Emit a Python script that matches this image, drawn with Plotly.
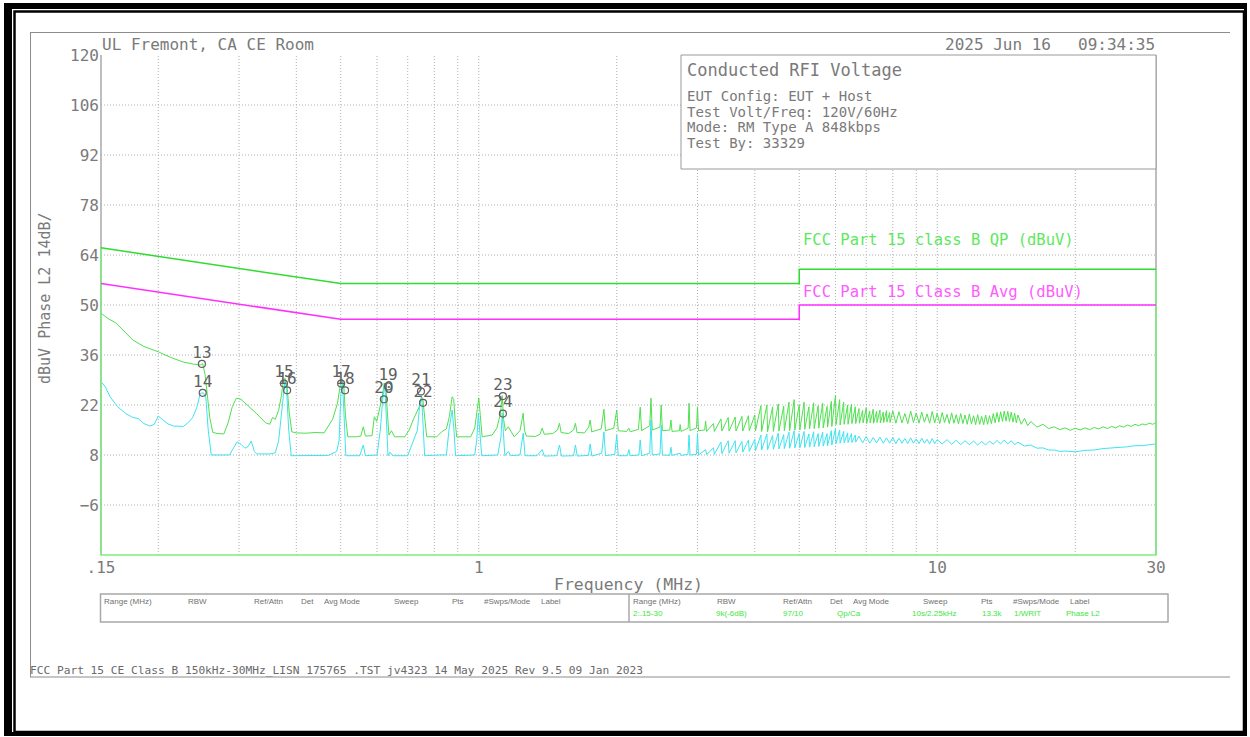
import math
import plotly.graph_objects as go

# ---------------- data ----------------
F_MIN, F_MAX = 0.15, 30.0
Y_MIN, Y_MAX = -20, 120
Y_TICKS = [-6, 8, 22, 36, 50, 64, 78, 92, 106, 120]
X_TICKS = [0.15, 1, 10, 30]
X_TICK_TEXT = [".15", "1", "10", "30"]
X_GRID = [0.2, 0.3, 0.4, 0.5, 0.6, 0.7, 0.8, 0.9, 1, 2, 3, 4, 5, 6, 7, 8, 9, 10, 20]

LIMIT_FREQ = [0.15, 0.5, 5, 5, 30]
QP_LIMIT = [66, 56, 56, 60, 60]
AVG_LIMIT = [56, 46, 46, 50, 50]

# peak / quasi-peak sweep (MHz, dBuV)
QP_SWEEP = [
    (0.150, 47.7), (0.155, 46.3), (0.162, 44.9), (0.170, 42.0), (0.176, 40.2), (0.186, 38.4),
    (0.200, 36.9), (0.213, 35.3), (0.227, 34.0), (0.240, 33.4), (0.247, 33.2), (0.250, 33.6),
    (0.253, 30.5), (0.256, 24.5), (0.259, 18.5), (0.263, 14.3), (0.270, 14.0), (0.278, 13.9),
    (0.284, 17.0), (0.290, 21.5), (0.296, 23.9), (0.303, 23.6), (0.312, 22.2), (0.327, 19.7),
    (0.343, 17.0), (0.350, 16.6), (0.355, 18.5), (0.360, 18.0), (0.366, 20.5), (0.371, 24.5),
    (0.375, 29.0), (0.378, 29.5), (0.382, 27.0), (0.386, 20.0), (0.391, 14.5), (0.400, 14.2),
    (0.420, 14.1), (0.440, 14.3), (0.460, 14.2), (0.468, 15.9), (0.480, 18.0), (0.492, 22.5),
    (0.500, 28.5), (0.504, 29.3), (0.508, 27.0), (0.512, 19.0), (0.518, 13.1), (0.540, 13.1),
    (0.553, 13.3), (0.560, 15.9), (0.566, 13.3), (0.585, 13.4), (0.592, 18.7), (0.599, 17.4),
    (0.607, 20.6), (0.616, 24.3), (0.622, 28.2), (0.627, 27.5), (0.632, 20.0), (0.637, 13.6),
    (0.645, 14.8), (0.655, 13.1), (0.690, 13.1), (0.705, 15.0), (0.722, 18.3), (0.740, 21.2),
    (0.750, 24.3), (0.755, 23.8), (0.763, 18.0), (0.770, 13.1), (0.810, 13.1), (0.830, 14.5),
    (0.850, 15.3), (0.862, 18.5), (0.875, 24.3), (0.882, 23.5), (0.889, 17.0), (0.895, 13.1),
    (0.960, 13.1), (0.980, 15.5), (0.993, 21.0), (1.000, 24.0), (1.008, 19.0), (1.017, 13.1),
    (1.070, 13.6), (1.095, 15.5), (1.115, 19.5), (1.125, 24.6), (1.133, 18.0), (1.143, 14.8),
    (1.160, 15.9), (1.175, 14.5), (1.195, 13.1), (1.230, 14.8), (1.250, 19.7), (1.258, 15.0),
    (1.270, 13.3), (1.330, 13.2), (1.360, 13.8), (1.375, 15.5), (1.390, 13.8), (1.450, 14.0),
    (1.485, 15.0), (1.500, 16.9), (1.512, 14.3), (1.570, 14.0), (1.610, 15.0), (1.625, 16.9),
    (1.638, 14.3), (1.700, 14.2), (1.737, 15.8), (1.750, 17.8), (1.763, 14.5), (1.850, 15.3),
    (1.875, 20.8), (1.890, 14.8), (1.970, 15.5), (2.000, 20.6), (2.015, 14.8), (2.100, 14.6),
    (2.125, 15.5), (2.140, 14.5), (2.230, 15.2), (2.250, 21.4), (2.265, 14.8), (2.360, 16.2),
    (2.375, 23.9), (2.390, 15.0), (2.485, 15.8), (2.500, 22.0), (2.515, 14.8), (2.610, 15.0),
    (2.625, 17.8), (2.640, 14.6), (2.740, 14.8), (2.750, 16.5), (2.762, 14.6), (2.862, 15.5),
    (2.875, 22.5), (2.890, 14.8), (2.985, 15.6), (3.000, 21.5), (3.015, 14.8), (3.110, 15.0),
    (3.125, 17.5), (3.140, 14.6), (3.250, 16.8), (3.265, 14.6), (3.375, 18.1), (3.390, 14.7),
    (3.500, 18.5), (3.515, 14.7), (3.625, 18.6), (3.640, 14.7), (3.750, 18.8), (3.765, 14.7),
    (3.875, 19.0), (3.890, 14.8), (4.000, 19.2), (4.015, 14.8), (4.125, 21.8), (4.140, 14.6),
    (4.250, 22.0), (4.265, 14.5), (4.375, 21.5), (4.390, 14.6), (4.500, 22.3), (4.515, 14.7),
    (4.625, 21.7), (4.640, 14.8), (4.750, 22.8), (4.765, 14.8), (4.875, 23.5), (4.890, 15.0),
    (5.000, 22.0), (5.015, 15.0), (5.125, 22.8), (5.140, 15.2), (5.250, 21.5), (5.265, 15.3),
    (5.375, 22.6), (5.390, 15.4), (5.500, 21.8), (5.515, 15.5), (5.625, 22.5), (5.640, 15.6),
    (5.750, 21.6), (5.765, 15.8), (5.875, 23.0), (5.890, 16.0), (6.000, 24.8), (6.015, 16.5),
    (6.125, 23.5), (6.140, 16.4), (6.250, 22.8), (6.265, 16.6), (6.375, 22.0), (6.390, 16.6),
    (6.500, 22.3), (6.515, 16.8), (6.625, 21.5), (6.640, 16.8), (6.750, 21.0), (6.765, 16.9),
    (6.875, 20.5), (6.890, 17.0), (7.000, 21.2), (7.015, 16.8), (7.125, 20.3), (7.140, 17.0),
    (7.250, 20.8), (7.265, 16.9), (7.375, 20.2), (7.390, 17.1), (7.500, 20.6), (7.515, 17.0),
    (7.625, 20.0), (7.640, 17.1), (7.750, 20.4), (7.765, 17.2), (7.875, 19.9), (7.890, 17.1),
    (8.000, 20.3), (8.125, 16.9), (8.250, 20.1), (8.375, 17.0), (8.500, 19.6), (8.625, 16.8),
    (8.750, 20.3), (8.875, 17.1), (9.000, 19.8), (9.125, 16.9), (9.250, 20.0), (9.375, 17.2),
    (9.500, 19.5), (9.625, 16.9), (9.750, 20.2), (9.875, 17.0), (10.00, 19.7), (10.125, 16.8),
    (10.25, 19.9), (10.375, 17.1), (10.50, 19.4), (10.625, 16.8), (10.75, 19.8), (10.875, 16.9),
    (11.00, 19.3), (11.125, 16.7), (11.25, 19.6), (11.375, 16.8), (11.50, 19.2), (11.625, 16.6),
    (11.75, 19.5), (11.875, 16.7), (12.00, 19.0), (12.125, 16.5), (12.25, 19.3), (12.375, 16.6),
    (12.50, 18.8), (12.625, 16.5), (12.75, 19.2), (12.875, 16.6), (13.00, 19.0), (13.125, 16.8),
    (13.25, 19.6), (13.375, 17.0), (13.50, 19.9), (13.625, 17.2), (13.75, 20.1), (13.875, 17.4),
    (14.00, 20.3), (14.125, 17.5), (14.25, 20.2), (14.375, 17.4), (14.50, 20.0), (14.625, 17.2),
    (14.75, 19.7), (14.875, 17.0), (15.00, 19.2), (15.25, 16.6), (15.50, 18.3), (15.75, 16.2),
    (16.00, 17.4), (16.50, 15.8), (17.00, 16.6), (17.50, 15.4), (18.00, 15.9), (18.50, 15.1),
    (19.00, 15.6), (19.50, 14.9), (20.00, 15.5), (20.50, 15.0), (21.00, 15.6), (21.50, 15.1),
    (22.00, 15.7), (22.50, 15.3), (23.00, 15.9), (23.50, 15.4), (24.00, 16.0), (24.50, 15.6),
    (25.00, 16.2), (25.50, 15.8), (26.00, 16.4), (26.50, 16.0), (27.00, 16.6), (27.50, 16.2),
    (28.00, 16.7), (28.50, 16.4), (29.00, 16.9), (29.50, 16.6), (30.00, 17.1),
]

# average sweep (MHz, dBuV)
AVG_SWEEP = [
    (0.150, 28.5), (0.153, 27.3), (0.157, 24.3), (0.163, 21.5), (0.170, 19.6), (0.176, 18.5),
    (0.181, 18.2), (0.186, 16.8), (0.192, 16.1), (0.196, 16.6), (0.200, 18.9), (0.204, 18.0),
    (0.210, 16.7), (0.216, 16.1), (0.227, 16.0), (0.233, 17.2), (0.238, 18.6), (0.243, 21.5),
    (0.247, 25.3), (0.251, 25.4), (0.254, 24.0), (0.257, 15.0), (0.261, 8.0), (0.270, 8.0),
    (0.286, 8.0), (0.292, 10.0), (0.297, 11.7), (0.303, 11.0), (0.309, 9.9), (0.314, 10.4),
    (0.319, 11.9), (0.324, 9.0), (0.328, 8.3), (0.350, 8.3), (0.360, 8.6), (0.366, 12.0),
    (0.371, 20.0), (0.375, 26.5), (0.378, 29.0), (0.381, 26.0), (0.385, 15.0), (0.390, 7.8),
    (0.420, 7.8), (0.470, 7.9), (0.490, 9.0), (0.496, 12.2), (0.500, 24.3), (0.504, 29.0),
    (0.508, 20.0), (0.513, 7.8), (0.550, 7.8), (0.560, 10.8), (0.566, 7.8), (0.600, 8.0),
    (0.610, 15.0), (0.618, 24.3), (0.624, 27.6), (0.630, 15.0), (0.634, 7.8), (0.640, 8.8),
    (0.650, 7.8), (0.700, 7.8), (0.735, 15.0), (0.745, 23.4), (0.751, 24.0), (0.757, 15.0),
    (0.762, 7.8), (0.820, 8.0), (0.850, 8.0), (0.862, 15.5), (0.875, 20.6), (0.883, 15.0),
    (0.890, 7.8), (0.980, 8.0), (0.990, 12.2), (0.998, 19.7), (1.008, 13.0), (1.015, 7.8),
    (1.100, 8.0), (1.118, 13.0), (1.125, 19.7), (1.133, 11.0), (1.140, 7.8), (1.160, 9.0),
    (1.175, 7.8), (1.230, 8.0), (1.250, 14.1), (1.262, 7.8), (1.340, 7.8), (1.375, 9.5),
    (1.390, 7.7), (1.480, 7.8), (1.500, 10.8), (1.515, 7.7), (1.610, 7.8), (1.625, 10.8),
    (1.640, 7.7), (1.735, 7.9), (1.750, 11.1), (1.765, 7.7), (1.855, 8.5), (1.875, 14.5),
    (1.890, 7.8), (1.980, 8.2), (2.000, 13.6), (2.015, 7.8), (2.110, 7.8), (2.125, 9.5),
    (2.140, 7.8), (2.235, 8.0), (2.250, 12.2), (2.265, 7.8), (2.360, 8.5), (2.375, 17.8),
    (2.390, 8.0), (2.485, 8.3), (2.500, 16.4), (2.515, 8.0), (2.610, 7.9), (2.625, 10.2),
    (2.640, 7.9), (2.750, 8.5), (2.765, 7.9), (2.860, 8.2), (2.875, 13.6), (2.890, 8.0),
    (2.985, 8.2), (3.000, 14.1), (3.015, 8.0), (3.125, 9.5), (3.140, 8.1), (3.250, 10.0),
    (3.265, 8.2), (3.375, 11.6), (3.390, 8.4), (3.500, 12.0), (3.515, 8.5), (3.625, 12.0),
    (3.640, 8.6), (3.750, 11.8), (3.765, 8.8), (3.875, 12.2), (3.890, 9.0), (4.000, 12.4),
    (4.015, 9.2), (4.125, 13.6), (4.140, 9.4), (4.250, 13.9), (4.265, 9.5), (4.375, 13.5),
    (4.390, 9.6), (4.500, 14.1), (4.515, 9.7), (4.625, 13.7), (4.640, 9.8), (4.750, 14.4),
    (4.765, 9.9), (4.875, 14.8), (4.890, 10.0), (5.000, 14.0), (5.015, 10.0), (5.125, 14.6),
    (5.140, 10.1), (5.250, 13.9), (5.265, 10.2), (5.375, 14.5), (5.390, 10.3), (5.500, 14.0),
    (5.515, 10.4), (5.625, 14.4), (5.640, 10.5), (5.750, 14.0), (5.765, 10.6), (5.875, 14.8),
    (5.890, 10.8), (6.000, 15.5), (6.015, 11.2), (6.125, 15.0), (6.140, 11.3), (6.250, 14.6),
    (6.265, 11.4), (6.375, 14.2), (6.390, 11.5), (6.500, 14.0), (6.515, 11.5), (6.625, 13.6),
    (6.640, 11.6), (6.750, 13.3), (6.875, 11.4), (7.000, 13.2), (7.125, 11.3), (7.250, 12.9),
    (7.375, 11.4), (7.500, 13.0), (7.625, 11.3), (7.750, 12.8), (7.875, 11.3), (8.000, 12.9),
    (8.125, 11.2), (8.250, 12.7), (8.375, 11.3), (8.500, 12.6), (8.625, 11.2), (8.750, 12.8),
    (8.875, 11.3), (9.000, 12.5), (9.125, 11.2), (9.250, 12.7), (9.375, 11.3), (9.500, 12.4),
    (9.625, 11.1), (9.750, 12.6), (9.875, 11.2), (10.00, 12.3), (10.25, 11.1), (10.50, 12.3),
    (10.75, 11.0), (11.00, 12.1), (11.25, 10.9), (11.50, 12.0), (11.75, 10.9), (12.00, 11.9),
    (12.25, 10.8), (12.50, 11.8), (12.75, 10.8), (13.00, 11.9), (13.25, 11.0), (13.50, 12.1),
    (13.75, 11.1), (14.00, 12.2), (14.25, 11.1), (14.50, 12.0), (14.75, 10.9), (15.00, 11.6),
    (15.50, 10.5), (16.00, 10.8), (16.50, 9.9), (17.00, 10.0), (17.50, 9.4), (18.00, 9.4),
    (18.50, 9.0), (19.00, 9.1), (20.00, 8.9), (21.00, 9.3), (22.00, 9.4), (23.00, 9.8),
    (24.00, 9.9), (25.00, 10.2), (26.00, 10.3), (27.00, 10.6), (28.00, 10.6), (29.00, 10.9),
    (30.00, 11.1),
]

MK_LABEL = ["13", "14", "15", "16", "17", "18", "19", "20", "21", "22", "23", "24"]
MK_FREQ = [0.249, 0.250, 0.376, 0.382, 0.501, 0.511, 0.634, 0.621, 0.748, 0.756, 1.129, 1.129]
MK_LEVEL = [33.5, 25.4, 28.0, 26.1, 28.0, 26.1, 27.2, 23.6, 25.8, 22.6, 24.5, 19.6]

TITLE_LEFT = "UL Fremont, CA CE Room"
TITLE_DATE = "2025 Jun 16"
TITLE_TIME = "09:34:35"
INFO_TITLE = "Conducted RFI Voltage"
INFO_LINES = ["EUT Config: EUT + Host", "Test Volt/Freq: 120V/60Hz",
              "Mode: RM Type A 848kbps", "Test By: 33329"]
QP_LIMIT_NAME = "FCC Part 15 class B QP (dBuV)"
AVG_LIMIT_NAME = "FCC Part 15 Class B Avg (dBuV)"
Y_TITLE = "dBuV Phase L2 14dB/"
X_TITLE = "Frequency (MHz)"
TABLE_HEAD = ["Range (MHz)", "RBW", "Ref/Attn", "Det", "Avg Mode", "Sweep", "Pts", "#Swps/Mode", "Label"]
TABLE_ROW = ["2:.15-30", "9k(-6dB)", "97/10", "Qp/Ca", "10s/2.25kHz", "13.3k", "1/WRIT", "Phase L2"]
FOOTER = "FCC Part 15 CE Class B 150kHz-30MHz_LISN 175765 .TST jv4323 14 May 2025 Rev 9.5 09 Jan 2023"

# ---------------- layout geometry (pixels) ----------------
W, H = 1250, 737
PL, PR, PT, PB = 100, 1157, 54, 556
MONO = "DejaVu Sans Mono"
GRAY = "#7a7a7a"

def xp(px):
    return (px - PL) / (PR - PL)

def yp(py):
    return (PB - py) / (PB - PT)

lx0, lx1 = math.log10(F_MIN), math.log10(F_MAX)
dx = (lx1 - lx0) / (PR - PL - 2)
dy = (Y_MAX - Y_MIN) / (PB - PT - 2)

fig = go.Figure()

# grid
gx, gy = [], []
for g in X_GRID:
    gx += [g, g, None]
    gy += [Y_MIN, Y_MAX, None]
for t in Y_TICKS[:-1]:
    gx += [F_MIN, F_MAX, None]
    gy += [t, t, None]
fig.add_trace(go.Scatter(x=gx, y=gy, mode="lines", hoverinfo="skip",
                         line=dict(color="#b0b0b0", width=1, dash="1px,2px")))

# gray plot edges
fig.add_trace(go.Scatter(x=[F_MIN, F_MIN, None, F_MAX, F_MAX], y=[Y_MIN, Y_MAX, None, Y_MIN, Y_MAX],
                         mode="lines", hoverinfo="skip", line=dict(color="#a8a8a8", width=1.5)))

qf = [p[0] for p in QP_SWEEP]
qv = [p[1] for p in QP_SWEEP]
af = [p[0] for p in AVG_SWEEP]
av = [p[1] for p in AVG_SWEEP]

fig.add_trace(go.Scatter(x=qf, y=qv, mode="lines", line=dict(color="#4fe04f", width=1), hoverinfo="skip"))
fig.add_trace(go.Scatter(x=af, y=av, mode="lines", line=dict(color="#3fe3f0", width=1), hoverinfo="skip"))

# limit lines (closed down to the bottom of the graticule)
fig.add_trace(go.Scatter(x=[LIMIT_FREQ[0], LIMIT_FREQ[0], LIMIT_FREQ[-1], LIMIT_FREQ[-1]],
                         y=[QP_LIMIT[0], Y_MIN, Y_MIN, QP_LIMIT[-1]], mode="lines",
                         line=dict(color="#7ef07e", width=1.5), hoverinfo="skip"))
fig.add_trace(go.Scatter(x=LIMIT_FREQ, y=QP_LIMIT, mode="lines",
                         line=dict(color="#2fdc2f", width=1.5), hoverinfo="skip"))
fig.add_trace(go.Scatter(x=LIMIT_FREQ, y=AVG_LIMIT, mode="lines",
                         line=dict(color="#ff30ff", width=1.5), hoverinfo="skip"))

# markers
fig.add_trace(go.Scatter(x=MK_FREQ, y=MK_LEVEL, mode="markers", hoverinfo="skip",
                         marker=dict(symbol="circle-open", size=7, color="#606060", line=dict(width=1.2))))
fig.add_trace(go.Scatter(x=MK_FREQ, y=MK_LEVEL, mode="markers+text", text=MK_LABEL,
                         textposition="top center", hoverinfo="skip", cliponaxis=False,
                         marker=dict(size=2, color="rgba(0,0,0,0)"),
                         textfont=dict(family=MONO, size=16, color="#606060")))

shapes = []
def rect(x0, y0, x1, y1, **kw):
    shapes.append(dict(type="rect", xref="paper", yref="paper",
                       x0=xp(x0), x1=xp(x1), y0=yp(y1), y1=yp(y0), **kw))

def hline(x0, x1, y, **kw):
    shapes.append(dict(type="line", xref="paper", yref="paper",
                       x0=xp(x0), x1=xp(x1), y0=yp(y), y1=yp(y), **kw))

def vline(x, y0, y1, **kw):
    shapes.append(dict(type="line", xref="paper", yref="paper",
                       x0=xp(x), x1=xp(x), y0=yp(y0), y1=yp(y1), **kw))

# outer black frame with shadow
rect(4, 3, 1247, 736, fillcolor="black", line=dict(width=0), layer="below")
rect(12, 9, 1244, 732, fillcolor="white", line=dict(width=0), layer="below")
rect(14.5, 11.5, 1244, 732, fillcolor="rgba(0,0,0,0)", line=dict(color="black", width=2.5), layer="below")
# thin gray page frame
hline(30, 1230, 32.5, line=dict(color="#8c8c8c", width=1), layer="below")
vline(30.5, 32.5, 677, line=dict(color="#8c8c8c", width=1), layer="below")
hline(30, 1230, 677, line=dict(color="#8c8c8c", width=1), layer="below")
# table
rect(100.5, 594, 1168, 622, fillcolor="rgba(0,0,0,0)", line=dict(color="#a8a8a8", width=1.5), layer="below")
vline(629, 594, 622, line=dict(color="#a8a8a8", width=1.5), layer="below")
# info box
rect(681, 55, 1156, 169, fillcolor="white", line=dict(color="#9a9a9a", width=1), layer="above")

ann = []
def note(text, px, py, size, color=GRAY, xanchor="left", yanchor="middle", family=MONO, **kw):
    ann.append(dict(text=text, x=xp(px), y=yp(py), xref="paper", yref="paper",
                    xanchor=xanchor, yanchor=yanchor, showarrow=False,
                    font=dict(family=family, size=size, color=color), **kw))

note(TITLE_LEFT, 100, 44, 16)
note(TITLE_DATE, 1053, 44, 16, xanchor="right")
note(TITLE_TIME, 1157, 44, 16, xanchor="right")
note(INFO_TITLE, 685, 70, 17)
for i, line in enumerate(INFO_LINES):
    note(line, 685, 95.5 + i * 16, 14)
note(QP_LIMIT_NAME, 801, 240, 15.5, color="#5ee85e")
note(AVG_LIMIT_NAME, 801, 292, 15.5, color="#ff5cff")
note(Y_TITLE, 45, 298, 15, xanchor="center", textangle=-90)
note(X_TITLE, 628, 584, 16.5, xanchor="center")

HEAD_OFF = [2, 86, 152, 199, 222, 292, 350, 382, 439]
ROW_OFF = [2, 85, 152, 206, 281, 351, 383, 435]
for base in (100, 629):
    for t, o in zip(TABLE_HEAD, HEAD_OFF):
        note(t, base + o, 601, 8, color="#707070", family="Liberation Sans")
for t, o in zip(TABLE_ROW, ROW_OFF):
    note(t, 629 + o, 613, 8, color="#3ee63e", family="Liberation Sans")
note(FOOTER, 28, 670, 11.2, color="#6a6a6a")

fig.update_layout(
    width=W, height=H, showlegend=False,
    margin=dict(l=PL, r=W - PR, t=PT, b=H - PB, pad=0),
    paper_bgcolor="white", plot_bgcolor="white",
    font=dict(family=MONO, color=GRAY),
    shapes=shapes, annotations=ann,
    xaxis=dict(type="log", range=[lx0 - dx, lx1 + dx], tickmode="array",
               tickvals=X_TICKS, ticktext=X_TICK_TEXT, showgrid=False, zeroline=False,
               showline=False, ticks="", tickfont=dict(family=MONO, size=16, color=GRAY)),
    yaxis=dict(range=[Y_MIN - dy, Y_MAX + dy], tickmode="array", tickvals=Y_TICKS,
               showgrid=False, zeroline=False, showline=False, ticks="",
               tickfont=dict(family=MONO, size=16, color=GRAY)),
)

fig.write_html("out.html", config={"displayModeBar": False, "staticPlot": True},
               post_script="document.body.style.margin='0';document.body.style.overflow='hidden';")
